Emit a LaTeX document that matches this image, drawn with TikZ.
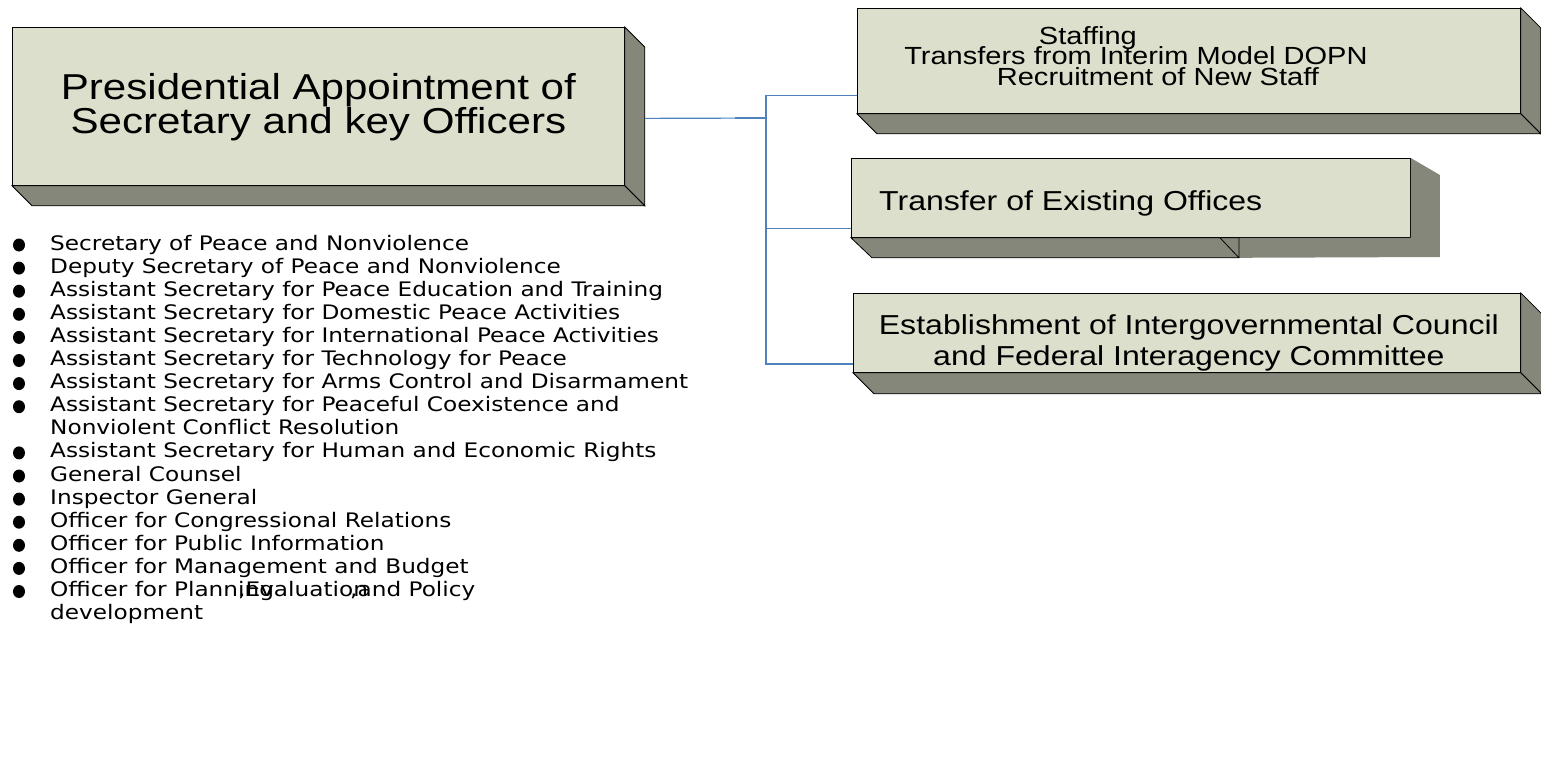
\documentclass[tikz,border=0pt]{standalone}
\usepackage{fontspec}
\usetikzlibrary{calc}
\newfontfamily\boxfont[FakeStretch=1.17]{Liberation Sans}
\newfontfamily\listfont[FakeStretch=1.16]{DejaVu Sans}
\definecolor{slabface}{HTML}{DCDFCB}
\definecolor{slabshade}{HTML}{85877B}
\definecolor{linkblue}{HTML}{4F81BD}
% side and bottom faces of a raised box: node, depth
\newcommand*{\slab}[2]{%
  \filldraw[slabside] (#1.north east) -- ++(#2,#2) -- ($(#1.south east)+(#2,#2)$) -- (#1.south east) -- cycle;
  \filldraw[slabside] (#1.south west) -- ++(#2,#2) -- ($(#1.south east)+(#2,#2)$) -- (#1.south east) -- cycle;}
% tight leading for box texts
\newcommand*{\boxsize}[2]{\boxfont\fontsize{#1}{#2}\selectfont\lineskiplimit=-100pt\relax}

\begin{document}
\begin{tikzpicture}[x=1pt,y=-1pt,
  slabfront/.style={draw=black, fill=slabface, line width=0.8pt, rectangle, inner sep=0pt, anchor=north west},
  slabside/.style={draw=black, fill=slabshade, line width=0.8pt, line join=miter},
  slabtext/.style={inner sep=0pt, align=center},
  link/.style={draw=linkblue, line width=1.2pt},
  item/.style={anchor=base west, inner sep=0pt, font=\listfont\fontsize{20}{22}\selectfont}]
\useasboundingbox (0,0) rectangle (1541,768);

% boxes
\node[slabfront, minimum width=612pt, minimum height=158pt] (main) at (12,27) {};
\slab{main}{20}
\node[slabtext, font=\boxsize{36}{34}] (maintext) at ($(main.center)+(0,1)$)
  {Presidential Appointment of\\Secretary and key Officers};

\node[slabfront, minimum width=663pt, minimum height=105pt] (staff) at (857,8) {};
\slab{staff}{20}
\node[slabtext, font=\boxsize{24.8}{20.5}] (stafftext) at ($(staff.center)+(-53,-5)$)
  {Staffing\hspace*{96pt}\\Transfers from Interim Model DOPN\\\hspace*{44pt}Recruitment of New Staff};

\node[slabfront, minimum width=559pt, minimum height=79pt] (transfer) at (851,158) {};
\fill[slabshade] (transfer.north east) -- ++(29,17) -- ++(0,82) -- ($(transfer.south west)+(388,20)$) -- ++(0,-20) -- (transfer.south east) -- cycle;
\filldraw[slabside] (transfer.south west) -- ++(21,20) -- ++(367,0) -- ++(0,-20) -- cycle;
\draw[line width=0.8pt] ($(transfer.south west)+(369,0)$) -- ++(19,20);
\node[slabtext, anchor=west, font=\boxsize{27.4}{30}] (transfertext) at ($(transfer.west)+(28,5.5)$)
  {Transfer of Existing Offices};

\node[slabfront, minimum width=667pt, minimum height=79pt] (estab) at (853,293) {};
\slab{estab}{21}
\node[slabtext, font=\boxsize{27.4}{31}] (estabtext) at ($(estab.center)+(2,10.5)$)
  {Establishment of Intergovernmental Council\\and Federal Interagency Committee};

% connectors
\coordinate (hub) at (766,118);
\draw[link] ($(main.east)+(20,12)$) -- (hub);
\draw[link, line width=2.2pt] ($(hub)+(-31,0)$) -- (hub);
\draw[link] (hub) |- ($(staff.west)+(0,34.5)$);
\draw[link] (hub) |- ($(transfer.west)+(0,30.5)$);
\draw[link] (hub) |- ($(estab.west)+(0,31)$);

% officers
\foreach \k/\txt in {0/{Secretary of Peace and Nonviolence},
    1/{Deputy Secretary of Peace and Nonviolence},
    2/{Assistant Secretary for Peace Education and Training},
    3/{Assistant Secretary for Domestic Peace Activities},
    4/{Assistant Secretary for International Peace Activities},
    5/{Assistant Secretary for Technology for Peace},
    6/{Assistant Secretary for Arms Control and Disarmament},
    7/{Assistant Secretary for Peaceful Coexistence and},
    8/{Nonviolent Conflict Resolution},
    9/{Assistant Secretary for Human and Economic Rights},
    10/{General Counsel},
    11/{Inspector General},
    12/{Officer for Congressional Relations},
    13/{Officer for Public Information},
    14/{Officer for Management and Budget},
    15/{Officer for Planning},
    16/{development}}
  \node[item] (item\k) at (50,{250+23.1*\k}) {\txt};
\node[item] (eval) at (238,{250+23.1*15}) {,Evaluation};
\node[item] (policy) at (350,{250+23.1*15}) {,and Policy};

\foreach \k in {0,...,7,9,10,...,15}
  \fill (19,{245+23.1*\k}) ellipse (6 and 6.5);
\end{tikzpicture}
\end{document}
